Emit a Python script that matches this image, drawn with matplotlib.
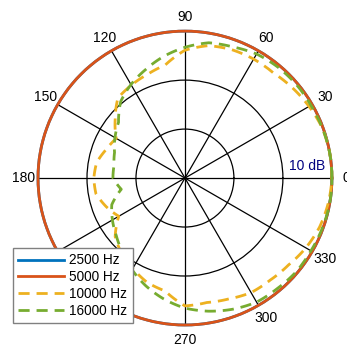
import numpy as np
import matplotlib.pyplot as plt

plt.rcParams['font.family'] = ['Liberation Sans', 'DejaVu Sans']

# polar response, normalised radius (outer ring = 1)
angles_deg = [0, 10, 20, 30, 40, 50, 60, 70, 80, 90, 100, 110, 120, 130, 140, 150,
              160, 170, 180, 190, 200, 210, 220, 230, 240, 250, 260, 270, 280, 290,
              300, 310, 320, 330, 340, 350, 360]
r_2500 = [1.0] * len(angles_deg)
r_5000 = [1.0] * len(angles_deg)
r_10000 = [1.0, 1.0, 0.995, 0.975, 0.955, 0.935, 0.935, 0.93, 0.915, 0.87, 0.78, 0.75,
           0.73, 0.71, 0.62, 0.54, 0.57, 0.61, 0.62, 0.615, 0.57, 0.52, 0.62, 0.67,
           0.71, 0.755, 0.78, 0.87, 0.86, 0.875, 0.90, 0.905, 0.92, 0.95, 0.975, 0.99, 1.0]
r_16000 = [1.0, 1.0, 0.995, 0.99, 0.99, 0.985, 0.975, 0.95, 0.935, 0.89, 0.84, 0.785,
           0.735, 0.68, 0.59, 0.55, 0.51, 0.49, 0.49, 0.44, 0.53, 0.57, 0.61, 0.66,
           0.72, 0.78, 0.835, 0.885, 0.92, 0.95, 0.975, 0.98, 0.99, 0.99, 0.995, 1.0, 1.0]
labels = ['2500 Hz', '5000 Hz', '10000 Hz', '16000 Hz']

theta = np.deg2rad(angles_deg)

fig = plt.figure(figsize=(3.47, 3.49), dpi=100)
ax = fig.add_axes([0.1095, 0.0688, 0.847, 0.842], projection='polar')

ax.plot(theta, r_2500, color='#0072BD', lw=2, clip_on=False, zorder=3, label=labels[0])
ax.plot(theta, r_5000, color='#D95319', lw=2, clip_on=False, zorder=3, label=labels[1])
ax.plot(theta, r_10000, color='#EDB120', lw=2, ls=(0, (4, 2.5)), clip_on=False, zorder=3, label=labels[2])
ax.plot(theta, r_16000, color='#77AC30', lw=2, ls=(0, (4, 2.5)), clip_on=False, zorder=3, label=labels[3])

# let the polar transform draw each segment as an arc
for ln in ax.lines:
    ln.get_path()._interpolation_steps = 30

ax.set_ylim(0, 1)
ax.set_yticks([1/3, 2/3, 1])
ax.set_yticklabels([])
ax.set_xticks(np.deg2rad(np.arange(0, 360, 30)))
ax.set_xticklabels([str(a) for a in range(0, 360, 30)], fontsize=10)
ax.tick_params(axis='x', pad=0)
ax.grid(True, color='black', lw=0.9)
ax.spines['polar'].set_color('black')

ax.text(0.976, 0.541, '10 dB', color='#000080', fontsize=10,
        ha='right', va='center', transform=ax.transAxes)

leg = fig.legend(loc='lower left', bbox_to_anchor=(0.0366, 0.0745), borderaxespad=0,
                 fontsize=9.8, fancybox=False, framealpha=1, edgecolor='#808080',
                 handlelength=3.4, handletextpad=0.35, labelspacing=0.2, borderpad=0.4)
leg.set_zorder(10)

fig.savefig('out.png', dpi=100)
